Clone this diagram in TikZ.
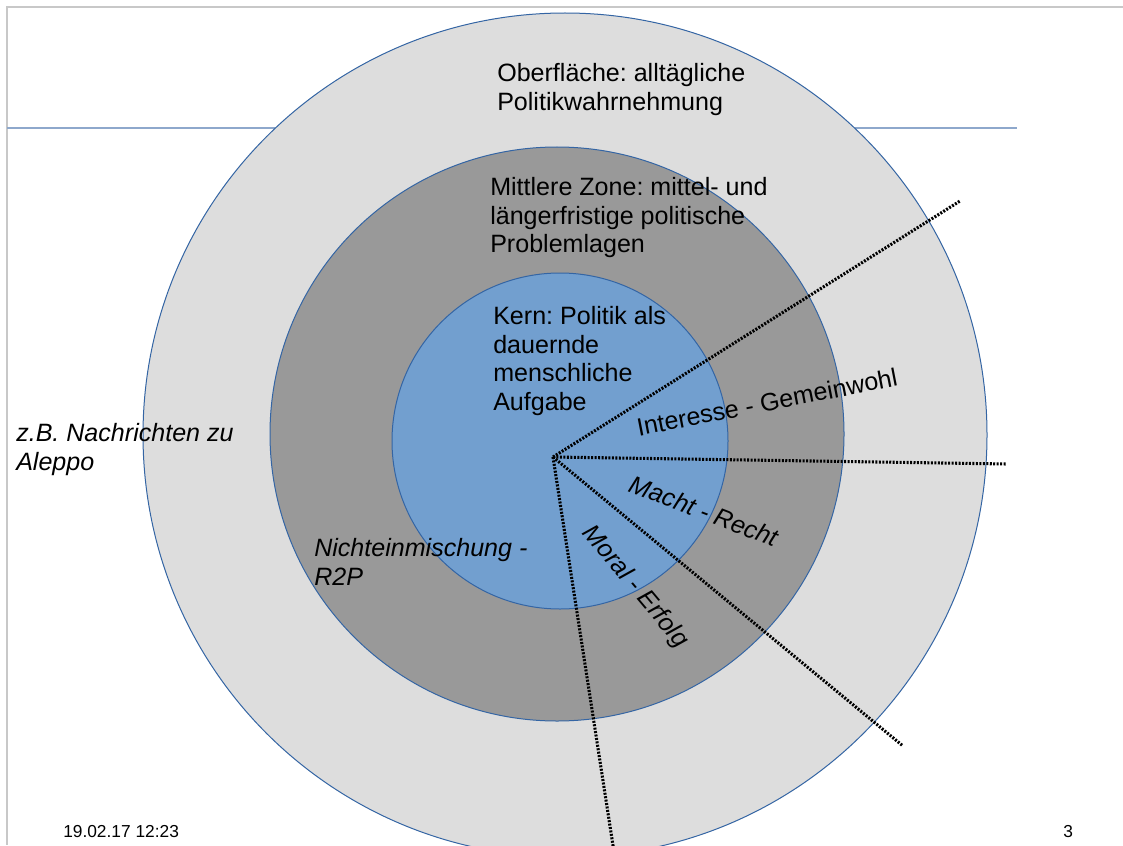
\documentclass[tikz,border=0pt]{standalone}
\usepackage{fontspec}
\setmainfont{Liberation Sans}
\frenchspacing
\definecolor{ringout}{HTML}{DDDDDD}
\definecolor{ringmid}{HTML}{999999}
\definecolor{core}{HTML}{729FCF}
\definecolor{edge}{HTML}{3465A4}
\definecolor{frame}{HTML}{C8C8C8}
\definecolor{hline}{HTML}{8EA8CC}
\begin{document}
\begin{tikzpicture}[x=0.75pt,y=-0.75pt,
  ring/.style={circle,draw=edge,line width=0.75pt,inner sep=0pt},
  ray/.style={line width=2.3pt,dash pattern=on 1.5pt off 1.1pt,black},
  lbl/.style={anchor=north west,inner sep=0pt,align=left,font=\fontsize{18.8}{21.5}\selectfont},
  slbl/.style={inner sep=0pt,font=\fontsize{18.8}{21.5}\selectfont\itshape},
  foot/.style={inner sep=0pt,font=\fontsize{13}{15}\selectfont}]
\useasboundingbox (0,0) rectangle (1123,845);
\clip (0,0) rectangle (1123,845);
\fill[white] (0,0) rectangle (1123,845);
% frame
\coordinate (ftl) at (7,7);
\coordinate (ftr) at (1123,7);
\coordinate (fbl) at (7,845);
\draw[frame,line width=1.2pt] (ftr) -- (ftl) -- (fbl);
\coordinate (hl1) at (7,128);
\coordinate (hl2) at (1017,128);
\draw[hline,line width=1pt] (hl1) -- (hl2);
% rings
\node[ring,fill=ringout,minimum size=633pt] (outer) at (565,435) {};
\node[ring,fill=ringmid,minimum size=430.5pt] (middle) at (557,434) {};
\node[ring,fill=core,minimum size=252pt] (inner) at (560,441) {};
% rays
\coordinate (o) at (553,457);
\coordinate (e1) at (960,201);
\coordinate (e2) at (1007,464);
\coordinate (e3) at (903,746);
\coordinate (e4) at (614,852);
\draw[ray] (o) -- (e1);
\draw[ray] (o) -- (e2);
\draw[ray] (o) -- (e3);
\draw[ray] (o) -- (e4);
% texts
\node[lbl] (t1) at (497,63) {Oberfläche: alltägliche\\Politikwahrnehmung};
\node[lbl] (t2) at (490,177) {Mittlere Zone: mittel- und\\längerfristige politische\\Problemlagen};
\node[lbl] (t3) at (493,306) {Kern: Politik als\\dauernde\\menschliche\\Aufgabe};
\node[lbl,font=\fontsize{18.8}{21.5}\selectfont\itshape] (t4) at (16,423) {z.B. Nachrichten zu\\Aleppo};
\node[lbl,font=\fontsize{18.8}{21.5}\selectfont\itshape] (t5) at (314,538) {Nichteinmischung -\\R2P};
\node[slbl,font=\fontsize{18.8}{21.5}\selectfont,rotate=11] (r1) at (767,402) {Interesse - Gemeinwohl};
\node[slbl,rotate=-21] (r2) at (704,511) {Macht - Recht};
\node[slbl,rotate=-50] (r3) at (635,587) {Moral - Erfolg};
\node[foot,anchor=west] (d) at (63,832) {19.02.17 12:23};
\node[foot,anchor=west] (p) at (1063,832) {3};
\end{tikzpicture}
\end{document}
